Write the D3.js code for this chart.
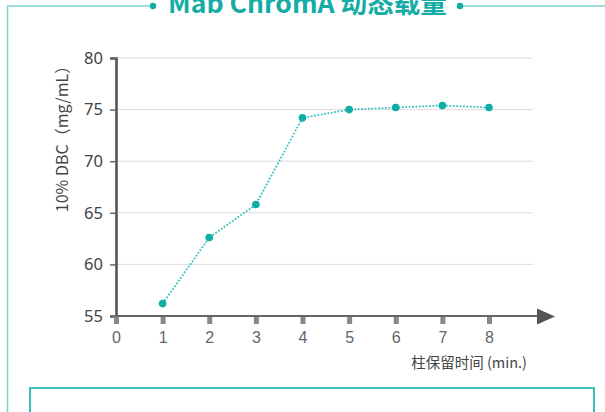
<!DOCTYPE html>
<html><head><meta charset="utf-8">
<script src="https://cdn.jsdelivr.net/npm/d3@7"></script>
<style>html,body{margin:0;padding:0;background:#fff;}svg{display:block;}</style>
</head><body>
<svg id="c" width="605" height="412"></svg>
<script>
const title = "Mab ChromA 动态载量";
const xLabel = "柱保留时间 (min.)";
const yLabel = "10% DBC（mg/mL）";
const times = [1, 2, 3, 4, 5, 6, 7, 8];
const dbc = [56.2, 62.6, 65.8, 74.2, 75.0, 75.2, 75.4, 75.2];
const xTicks = [0, 1, 2, 3, 4, 5, 6, 7, 8];
const yTicks = [55, 60, 65, 70, 75, 80];

const svg = d3.select("#c");
const teal = "#13aca6", frame = "#7fd4d0";

// frame and title
svg.append("path").attr("d", "M7.5,420 L7.5,6 L153,6").attr("fill","none").attr("stroke",frame).attr("stroke-width",1.6);
svg.append("path").attr("d", "M460,6 L606,6").attr("fill","none").attr("stroke",frame).attr("stroke-width",1.6);
svg.append("circle").attr("cx",153).attr("cy",6).attr("r",3.2).attr("fill",teal);
svg.append("circle").attr("cx",460).attr("cy",6).attr("r",3.2).attr("fill",teal);
const t = svg.append("text").attr("x",307.5).attr("y",13).attr("text-anchor","middle")
  .attr("font-family","'Noto Sans CJK SC','Noto Sans',sans-serif").attr("font-weight","bold")
  .attr("font-size",26).attr("fill",teal).text(title);
const tw = t.node().getComputedTextLength();
t.attr("font-size", 26*279/tw);

// bottom box
svg.append("rect").attr("x",30).attr("y",388).attr("width",564).attr("height",60)
  .attr("fill","none").attr("stroke","#3dbfbb").attr("stroke-width",2);

const x = d3.scaleLinear().domain([0, 8]).range([116, 489]);
const y = d3.scaleLinear().domain([55, 80]).range([316, 58]);

// gridlines
svg.append("g").selectAll("line").data(yTicks.filter(d=>d>55)).join("line")
  .attr("x1",116).attr("x2",533).attr("y1",d=>y(d)).attr("y2",d=>y(d))
  .attr("stroke","#dcdcdc").attr("stroke-width",1);

// y axis
const ya = svg.append("g").attr("transform","translate(116,0)")
  .call(d3.axisLeft(y).tickValues(yTicks).tickSize(6).tickPadding(7));
ya.select(".domain").attr("stroke","#555").attr("stroke-width",2.6);
ya.selectAll(".tick line").attr("stroke","#666").attr("stroke-width",1.5);
ya.selectAll(".tick text").attr("font-family","'Noto Sans','Noto Sans CJK SC',sans-serif").attr("font-size",16.5).attr("fill","#444");

// x axis
const xa = svg.append("g").attr("transform","translate(0,316)")
  .call(d3.axisBottom(x).tickValues(xTicks).tickSize(0).tickPadding(16));
xa.select(".domain").remove();
xa.selectAll(".tick text").attr("font-family","'Liberation Sans',Arial,sans-serif").attr("font-size",16).attr("fill","#666");
xa.selectAll(".tick").append("rect").attr("x",-2.5).attr("y",0).attr("width",5).attr("height",8).attr("fill","#888");
svg.append("line").attr("x1",116).attr("x2",540).attr("y1",316).attr("y2",316).attr("stroke","#666").attr("stroke-width",2.2);
svg.append("path").attr("d","M537,308.5 L555,316.5 L537,324.5 Z").attr("fill","#555");

// axis labels
svg.append("text").attr("x",527).attr("y",368).attr("text-anchor","end")
  .attr("font-family","'Noto Sans CJK SC',sans-serif").attr("font-size",14.5).attr("fill","#444").text(xLabel);
svg.append("text").attr("transform","translate(68,135) rotate(-90)").attr("text-anchor","middle")
  .attr("font-family","'Noto Sans CJK SC','Noto Sans',sans-serif").attr("font-size",16).attr("fill","#444").text(yLabel);

// line + points
const pts = times.map((d,i)=>[d, dbc[i]]);
svg.append("path").datum(pts)
  .attr("d", d3.line().x(d=>x(d[0])).y(d=>y(d[1])))
  .attr("fill","none").attr("stroke","#36c1bd").attr("stroke-width",1.8).attr("stroke-dasharray","1.8,1.6");
svg.append("g").selectAll("circle").data(pts).join("circle")
  .attr("cx",d=>x(d[0])).attr("cy",d=>y(d[1])).attr("r",3.8).attr("fill","#0eada7");
</script>
</body></html>
